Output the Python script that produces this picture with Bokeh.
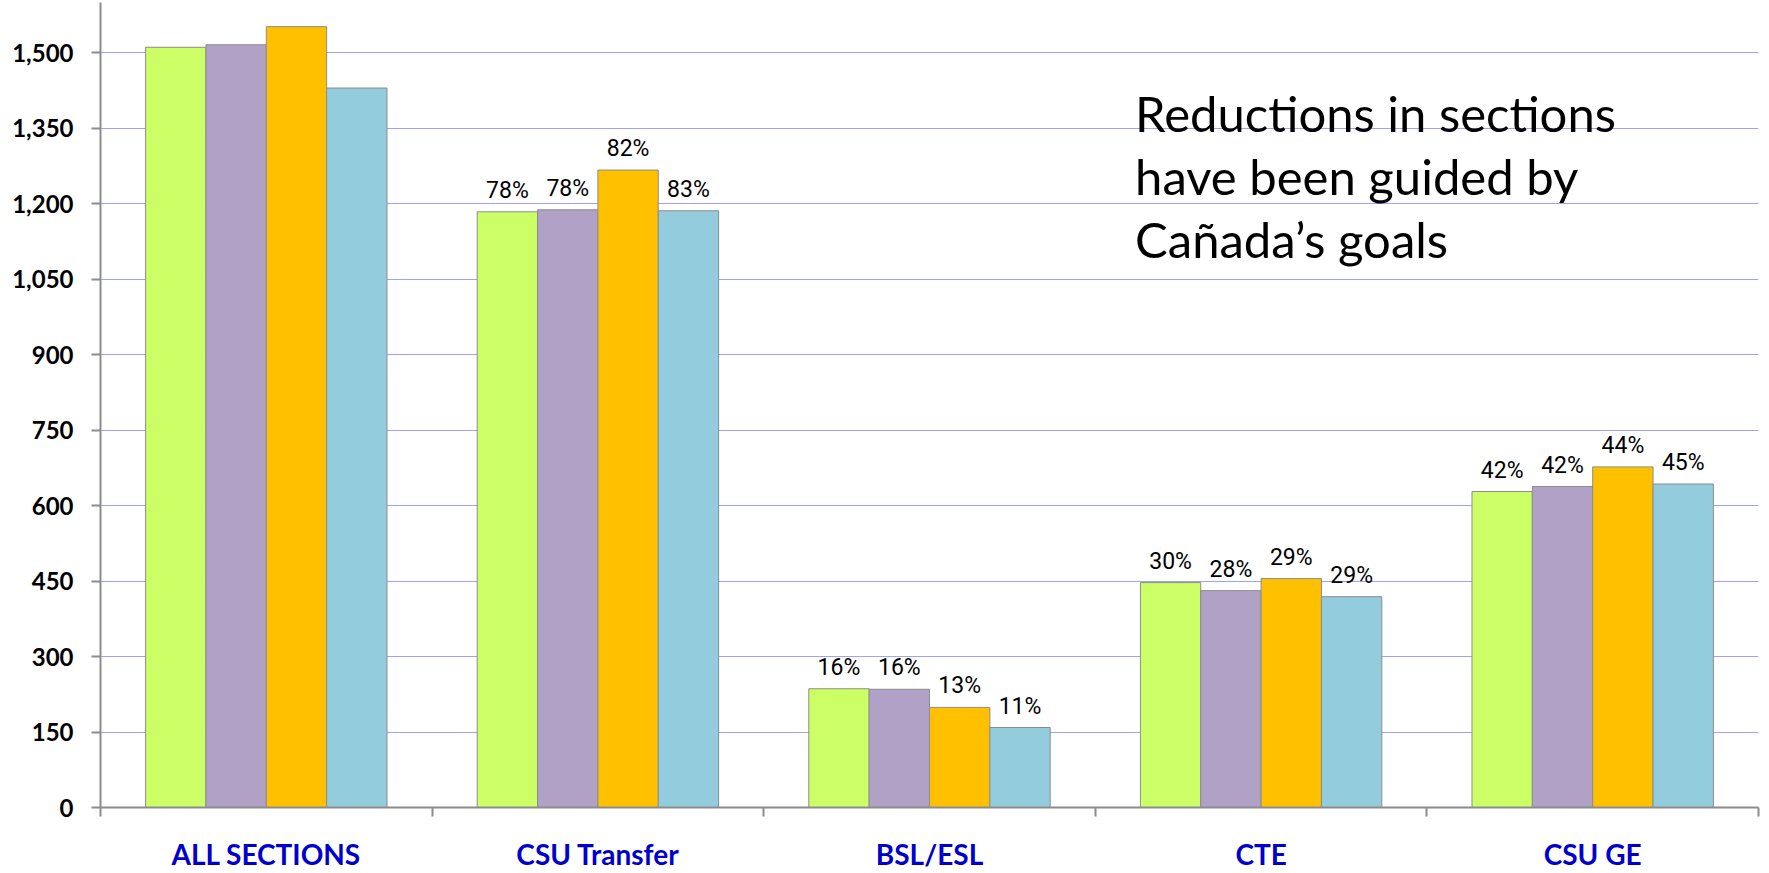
from bokeh.plotting import figure
from bokeh.models import (Range1d, LinearAxis, FixedTicker,
                          NumeralTickFormatter, ColumnDataSource, Label)
from bokeh.transform import dodge
from bokeh.core.properties import value
from bokeh.embed import file_html
from bokeh.resources import INLINE

# ---- data ----
categories = ["ALL SECTIONS", "CSU Transfer", "BSL/ESL", "CTE", "CSU GE"]
series_names = ["Series 1", "Series 2", "Series 3", "Series 4"]
series1 = [1511, 1184, 236, 447, 628]
series2 = [1516, 1188, 235, 431, 638]
series3 = [1552, 1267, 199, 455, 677]
series4 = [1430, 1186, 159, 419, 643]
pct1 = [None, 78, 16, 30, 42]
pct2 = [None, 78, 16, 28, 42]
pct3 = [None, 82, 13, 29, 44]
pct4 = [None, 83, 11, 29, 45]
y_ticks = [0, 150, 300, 450, 600, 750, 900, 1050, 1200, 1350, 1500]
note_lines = ["Reductions in sections", "have been guided by", "Cañada’s goals"]

colors = ["#CCFF66", "#B2A1C7", "#FFC000", "#93CDDD"]
offsets = [-0.273, -0.091, 0.091, 0.273]
bar_w = 0.182

def fmt(v):
    return "" if v is None else f"{v}%"

n = len(categories)
centers = [i + 0.5 for i in range(n)]

src = ColumnDataSource(dict(
    xc=centers, cat=categories,
    s1=series1, s2=series2, s3=series3, s4=series4,
    l1=[fmt(v) for v in pct1], l2=[fmt(v) for v in pct2],
    l3=[fmt(v) for v in pct3], l4=[fmt(v) for v in pct4],
))

p = figure(x_range=Range1d(0, n), y_range=Range1d(0, 1600),
           frame_width=1658, frame_height=805,
           min_border_left=100, min_border_right=3, min_border_top=2, min_border_bottom=66,
           output_backend="svg", toolbar_location=None, x_axis_location=None,
           background_fill_color="white", border_fill_color="white")
p.outline_line_color = None

grey = "#8C8C8C"

# y axis
p.yaxis.ticker = FixedTicker(ticks=y_ticks)
p.yaxis.formatter = NumeralTickFormatter(format="0,0")
p.yaxis.major_label_text_font = "Lato"
p.yaxis.major_label_text_font_style = "bold"
p.yaxis.major_label_text_font_size = "24px"
p.yaxis.major_label_text_color = "black"
p.yaxis.major_label_standoff = 18
p.yaxis.axis_line_color = grey
p.yaxis.axis_line_width = 2
p.yaxis.major_tick_line_color = grey
p.yaxis.major_tick_line_width = 2
p.yaxis.major_tick_in = 0
p.yaxis.major_tick_out = 9
p.yaxis.minor_tick_line_color = None

p.ygrid.grid_line_color = "#A0A0FF"
p.ygrid.grid_line_width = 1
p.xgrid.visible = False

# bars and labels
for i, (sc, lc) in enumerate([("s1", "l1"), ("s2", "l2"), ("s3", "l3"), ("s4", "l4")]):
    p.vbar(x=dodge("xc", offsets[i]), top=sc, width=bar_w, source=src,
           fill_color=colors[i], line_color=grey, line_width=1)
    p.text(x=dodge("xc", offsets[i]), y=sc, text=lc, source=src,
           text_align="center", text_baseline="bottom", y_offset=-8,
           text_font=value("Roboto"), text_font_size="23px", text_color="black")

# x axis with boundary ticks
bx = LinearAxis(ticker=FixedTicker(ticks=list(range(n + 1))),
                major_label_text_font_size="0px", major_label_text_color=None,
                major_label_standoff=0, major_tick_in=0, major_tick_out=9,
                major_tick_line_color=grey, major_tick_line_width=2,
                minor_tick_line_color=None, axis_line_color=grey, axis_line_width=2)
p.add_layout(bx, "below")

# category labels at group centers
cx = LinearAxis(ticker=FixedTicker(ticks=centers),
                major_label_overrides={c: lab for c, lab in zip(centers, categories)},
                axis_line_color=None, major_tick_line_color=None, minor_tick_line_color=None,
                major_label_text_font="Lato", major_label_text_font_style="bold",
                major_label_text_font_size="28px", major_label_text_color="#0000CC",
                major_label_standoff=14)
p.add_layout(cx, "below")

# annotation text
for line, yv in zip(note_lines, [1380, 1255, 1130]):
    p.add_layout(Label(x=3.12, y=yv, text=line, text_font="Lato", text_font_size="49px",
                       text_color="black", text_align="left", text_baseline="alphabetic"))

open("out.html", "w").write(file_html(p, INLINE))
